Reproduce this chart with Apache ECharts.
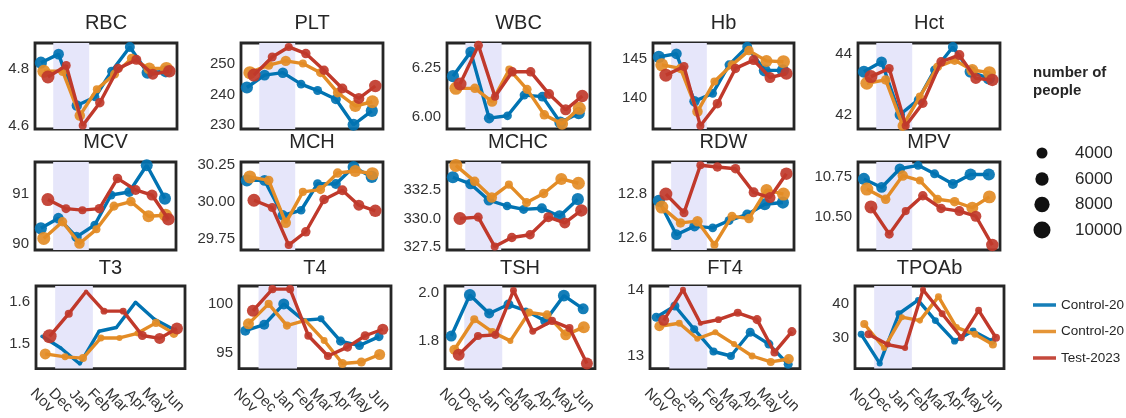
<!DOCTYPE html>
<html><head><meta charset="utf-8">
<script src="https://cdn.jsdelivr.net/npm/echarts@6/dist/echarts.min.js"></script>
<style>html,body{margin:0;padding:0;background:#fff}#c{width:1126px;height:418px}</style>
</head><body><div id="c"></div>
<script>
// ---------- DATA ----------
const months = ['Nov','Dec','Jan','Feb','Mar','Apr','May','Jun'];
const monthStartDay = [0,30,61,92,120,151,181,212];          // days since 1 Nov
const groups = ['Control-2021','Control-2022','Test-2023'];
const dayControl2021 = [0,30,61,92,120,151,181,212];
const dayControl2022 = [5,37,66,95,125,154,184,213];
const dayTest2023    = [12,43,71,100,131,162,190,218];
const winterStartDay = 21, winterEndDay = 82;
const sizeLegendValues = [4000,6000,8000,10000];

// number of people per point
const nCbc2021 = [5000,3800,3600,2400,2600,3200,4800,5000];
const nCbc2022 = [5700,2900,3600,2000,2600,2900,4800,5700];
const nCbc2023 = [5700,2600,2000,2900,2900,3250,4000,5250];
const nT3_2021 = [200,150,150,100,100,150,150,200];
const nT3_2022 = [4000,1400,2000,1400,1000,1000,2000,2600];
const nT3_2023 = [6700,2000,250,1400,1400,2600,4000,4800];
const nT4_2021 = [3250,3250,4000,600,1400,2600,2600,2600];
const nT4_2022 = [4000,2000,2000,250,1400,2600,2600,4000];
const nT4_2023 = [4800,2000,2000,2000,2000,2600,2600,4000];
const nTSH_2021 = [4000,4800,3250,3250,1000,3250,4800,4000];
const nTSH_2022 = [3250,2000,2000,1000,2000,2600,4000,4800];
const nTSH_2023 = [4800,2000,2000,1400,1400,2000,2000,4800];
const nFT4_2021 = [2600,2600,2000,2000,2000,2600,2600,2600];
const nFT4_2022 = [3250,1400,1000,1000,1000,1400,2000,3250];
const nFT4_2023 = [4000,1000,600,1400,2000,2600,2000,2600];
const nTPO_2021 = [1400,1000,1400,1000,1400,1400,1400,1400];
const nTPO_2022 = [2000,1000,1000,1000,1400,1400,1400,2000];
const nTPO_2023 = [2000,1000,1000,1000,1400,1400,1400,2000];

// measured values
const RBC_2021 = [4.82,4.85,4.67,4.70,4.79,4.875,4.785,4.79];
const RBC_2022 = [4.79,4.79,4.635,4.727,4.78,4.835,4.80,4.80];
const RBC_2023 = [4.77,4.81,4.60,4.68,4.80,4.83,4.78,4.79];
const PLT_2021 = [242.3,246.4,247.2,243.4,241.3,238.4,230.0,234.6];
const PLT_2022 = [247.2,249.7,251.1,250.2,247.2,240.6,236.2,237.6];
const PLT_2023 = [246.4,252.4,255.7,253.5,248.0,242.0,238.7,242.8];
const WBC_2021 = [6.208,6.331,5.995,6.007,6.112,6.104,5.973,6.02];
const WBC_2022 = [6.146,6.146,6.079,6.242,6.141,6.012,5.966,6.045];
const WBC_2023 = [6.168,6.364,6.104,6.23,6.23,6.117,6.037,6.107];
const Hb_2021 = [145.2,145.6,139.6,140.6,144.2,146.5,143.5,143.5];
const Hb_2022 = [144.2,143.75,138.3,142.1,144.2,146.0,144.7,144.6];
const Hb_2023 = [142.9,144.0,136.5,139.3,143.75,144.8,142.6,143.1];
const Hct_2021 = [43.42,43.75,42.0,42.49,43.48,44.24,43.42,43.2];
const Hct_2022 = [43.04,43.15,41.64,42.6,43.58,43.8,43.48,43.39];
const Hct_2023 = [43.26,43.53,41.64,42.38,43.75,43.97,43.2,43.15];
const MCV_2021 = [90.31,90.51,90.14,90.375,90.97,91.03,91.56,90.9];
const MCV_2022 = [90.11,90.44,90.01,90.29,90.75,90.84,90.55,90.57];
const MCV_2023 = [90.88,90.70,90.67,90.70,91.30,91.07,90.97,90.49];
const MCH_2021 = [30.144,30.144,29.91,29.944,30.122,30.12,30.233,30.167];
const MCH_2022 = [30.167,30.144,29.86,30.067,30.082,30.193,30.207,30.189];
const MCH_2023 = [30.011,29.962,29.711,29.80,30.016,30.078,29.978,29.94];
const MCHC_2021 = [333.63,333.04,331.61,331.1,330.8,330.9,330.2,331.7];
const MCHC_2022 = [334.67,333.27,331.85,332.98,331.4,332.2,333.48,333.1];
const MCHC_2023 = [330.0,330.12,327.53,328.33,328.57,330.12,329.61,330.71];
const RDW_2021 = [12.769,12.6125,12.652,12.644,12.678,12.706,12.753,12.761];
const RDW_2022 = [12.74,12.667,12.675,12.566,12.698,12.687,12.819,12.80];
const RDW_2023 = [12.80,12.714,12.933,12.925,12.917,12.808,12.784,12.894];
const MPV_2021 = [10.739,10.686,10.803,10.824,10.771,10.708,10.767,10.767];
const MPV_2022 = [10.676,10.612,10.76,10.729,10.612,10.597,10.559,10.627];
const MPV_2023 = [10.564,10.394,10.538,10.634,10.555,10.538,10.506,10.326];
const T3_2021 = [1.519,1.491,1.453,1.531,1.540,1.60,1.560,1.536];
const T3_2022 = [1.477,1.470,1.467,1.515,1.515,1.526,1.551,1.526];
const T3_2023 = [1.519,1.573,1.626,1.579,1.579,1.521,1.514,1.5375];
const T4_2021 = [97.27,97.88,100.0,98.33,98.48,96.21,95.76,96.67];
const T4_2022 = [97.97,100.0,97.79,98.33,96.27,93.94,94.09,94.85];
const T4_2023 = [99.30,101.5,101.5,96.76,94.70,95.6,96.76,97.42];
const TSH_2021 = [1.820,1.991,1.914,1.951,1.926,1.883,1.988,1.933];
const TSH_2022 = [1.763,1.890,1.837,1.80,1.918,1.908,1.825,1.857];
const TSH_2023 = [1.742,1.82,1.825,2.009,1.84,1.883,1.853,1.706];
const FT4_2021 = [13.586,13.757,13.405,13.068,13.0,13.36,13.18,12.874];
const FT4_2022 = [13.45,13.495,13.261,13.36,13.18,13.0,12.91,12.955];
const FT4_2023 = [13.54,14.0,13.495,13.55,13.653,13.55,13.054,13.369];
const TPOAb_2021 = [31,22.5,37,41,35,29,32,29];
const TPOAb_2022 = [34,27,36,35,42,33,31,28];
const TPOAb_2023 = [31,28,27,44,37,30,38,30];

// ---------- PANELS (axis setup) ----------
const panels = [
 {name:'RBC',  v:[RBC_2021,RBC_2022,RBC_2023],   n:[nCbc2021,nCbc2022,nCbc2023], min:4.588, max:4.889, step:0.2, dec:1},
 {name:'PLT',  v:[PLT_2021,PLT_2022,PLT_2023],   n:[nCbc2021,nCbc2022,nCbc2023], min:228.6, max:257.0, step:10, dec:0},
 {name:'WBC',  v:[WBC_2021,WBC_2022,WBC_2023],   n:[nCbc2021,nCbc2022,nCbc2023], min:5.94, max:6.376, step:0.25, dec:2},
 {name:'Hb',   v:[Hb_2021,Hb_2022,Hb_2023],      n:[nCbc2021,nCbc2022,nCbc2023], min:136.1, max:146.96, step:5, dec:0},
 {name:'Hct',  v:[Hct_2021,Hct_2022,Hct_2023],   n:[nCbc2021,nCbc2022,nCbc2023], min:41.53, max:44.37, step:2, dec:0},
 {name:'MCV',  v:[MCV_2021,MCV_2022,MCV_2023],   n:[nCbc2021,nCbc2022,nCbc2023], min:89.88, max:91.625, step:1, dec:0},
 {name:'MCH',  v:[MCH_2021,MCH_2022,MCH_2023],   n:[nCbc2021,nCbc2022,nCbc2023], min:29.678, max:30.267, step:0.25, dec:2},
 {name:'MCHC', v:[MCHC_2021,MCHC_2022,MCHC_2023],n:[nCbc2021,nCbc2022,nCbc2023], min:327.23, max:334.97, step:2.5, dec:1},
 {name:'RDW',  v:[RDW_2021,RDW_2022,RDW_2023],   n:[nCbc2021,nCbc2022,nCbc2023], min:12.542, max:12.948, step:0.2, dec:1},
 {name:'MPV',  v:[MPV_2021,MPV_2022,MPV_2023],   n:[nCbc2021,nCbc2022,nCbc2023], min:10.295, max:10.845, step:0.25, dec:2},
 {name:'T3',   v:[T3_2021,T3_2022,T3_2023],      n:[nT3_2021,nT3_2022,nT3_2023], min:1.442, max:1.639, step:0.1, dec:1},
 {name:'T4',   v:[T4_2021,T4_2022,T4_2023],      n:[nT4_2021,nT4_2022,nT4_2023], min:93.42, max:101.82, step:5, dec:0},
 {name:'TSH',  v:[TSH_2021,TSH_2022,TSH_2023],   n:[nTSH_2021,nTSH_2022,nTSH_2023], min:1.685, max:2.028, step:0.2, dec:1},
 {name:'FT4',  v:[FT4_2021,FT4_2022,FT4_2023],   n:[nFT4_2021,nFT4_2022,nFT4_2023], min:12.81, max:14.059, step:1, dec:0},
 {name:'TPOAb',v:[TPOAb_2021,TPOAb_2022,TPOAb_2023], n:[nTPO_2021,nTPO_2022,nTPO_2023], min:21.0, max:45.1, step:10, dec:0}
];

// ---------- LAYOUT / STYLE ----------
const rowTop = [43,162,286], rowH = [86,88,94];
const colBox = [
  [[35,177],[241,383],[447,590],[653,794],[858,1000]],
  [[35,176],[241,383],[447,589],[653,794],[858,1000]],
  [[36,185],[239,391],[445,595],[650,800],[855,1004]]
];
const titleY = [23,142.5,268];
const colors = ['#0173b2','#e38c26','#c0392b'];
const days = [dayControl2021, dayControl2022, dayTest2023];
const FONT = 'Liberation Sans, Arial, sans-serif';
const XMIN = -10, XMAX = 231;
function sizeOf(n){ return Math.sqrt(9 + 0.028*n); }
// label positions: month starts, padded with the axis ends (ends are hidden)
const xLabelValues = [XMIN].concat(monthStartDay, [XMAX]);

const grid=[], xAxis=[], yAxis=[], series=[], graphic=[];
panels.forEach((p,i)=>{
  const r = Math.floor(i/5), c = i%5;
  const [l, rr] = colBox[r][c];
  grid.push({left:l, top:rowTop[r], width:rr-l, height:rowH[r], show:true,
    borderColor:'#262626', borderWidth:2.8, backgroundColor:'transparent', containLabel:false});
  xAxis.push({type:'value', gridIndex:i, min:XMIN, max:XMAX, show:r===2,
    axisLine:{show:false}, axisTick:{show:false}, splitLine:{show:false},
    axisLabel:{show:r===2, customValues:xLabelValues, rotate:-45, align:'center', verticalAlign:'middle',
      margin:32, fontSize:15, color:'#333', fontFamily:FONT, showMinLabel:false, showMaxLabel:false,
      hideOverlap:false,
      formatter:v=>{const k=monthStartDay.indexOf(Math.round(v)); return k>=0?months[k]:'';}}});
  yAxis.push({type:'value', gridIndex:i, min:p.min, max:p.max, minInterval:p.step, maxInterval:p.step,
    axisLine:{show:false}, axisTick:{show:false}, splitLine:{show:false},
    axisLabel:{margin:6, fontSize:15, color:'#333', fontFamily:FONT, showMinLabel:true, showMaxLabel:true,
      formatter:v=>{const q=v/p.step; return Math.abs(q-Math.round(q))<1e-6 ? v.toFixed(p.dec) : '';}}});
  graphic.push({type:'text', x:(l+rr)/2, y:titleY[r], silent:true,
    style:{text:p.name, font:'20px '+FONT, fill:'#262626', align:'center', verticalAlign:'middle'}});
  for(let g=0; g<3; g++){
    const s = {type:'line', name:groups[g], xAxisIndex:i, yAxisIndex:i, z:2+g,
      data: days[g].map((d,j)=>[d, p.v[g][j], p.n[g][j]]),
      symbol:'circle', showSymbol:true, showAllSymbol:true,
      symbolSize: val=>sizeOf(val[2]),
      lineStyle:{width:3.4, color:colors[g]},
      itemStyle:{color:colors[g], opacity:0.92},
      emphasis:{disabled:true}, animation:false, clip:true};
    if(g===0){
      s.markArea = {silent:true, itemStyle:{color:'#e6e6fa', opacity:1},
        data:[[{xAxis:winterStartDay},{xAxis:winterEndDay}]]};
    }
    series.push(s);
  }
});

// size legend
graphic.push({type:'text', x:1033, y:64, silent:true,
  style:{text:'number of\npeople', font:'bold 15px '+FONT, fill:'#262626', lineHeight:18}});
const sizeLegY = [153,179,204.5,230];
sizeLegendValues.forEach((v,k)=>{
  graphic.push({type:'circle', shape:{cx:1042, cy:sizeLegY[k], r:sizeOf(v)/2}, style:{fill:'#111'}, silent:true});
  graphic.push({type:'text', x:1075, y:sizeLegY[k], silent:true,
    style:{text:String(v), font:'17px '+FONT, fill:'#262626', verticalAlign:'middle'}});
});

const chart = echarts.init(document.getElementById('c'), null, {renderer:'canvas'});
chart.setOption({
  animation:false, backgroundColor:'#fff',
  grid, xAxis, yAxis, series, graphic,
  legend:{data:groups, orient:'vertical', left:1028, top:293, icon:'rect', itemWidth:23, itemHeight:3.5,
    itemGap:12.5, formatter:n=>n.slice(0,10), textStyle:{fontSize:13.5, color:'#262626', fontFamily:FONT},
    selectedMode:false}
});
</script></body></html>
